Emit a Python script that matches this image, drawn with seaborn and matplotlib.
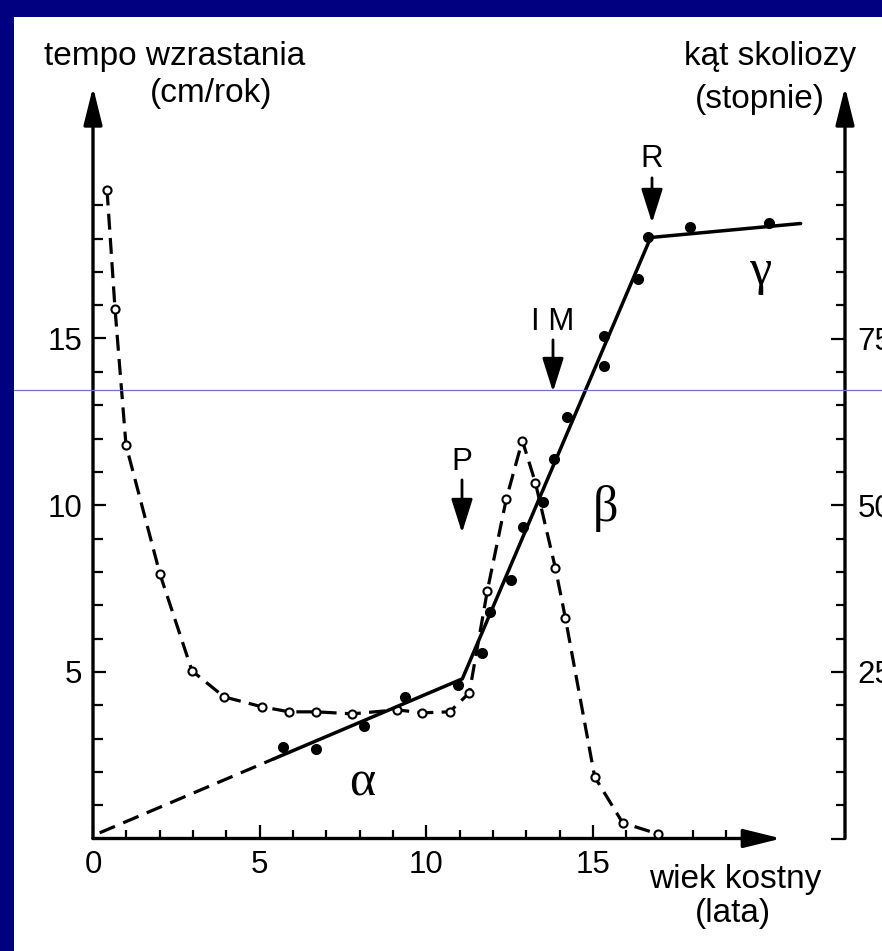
import matplotlib
matplotlib.use("Agg")
import matplotlib.pyplot as plt
from matplotlib.patches import Rectangle
from matplotlib.lines import Line2D
from matplotlib.ticker import FixedLocator
import pandas as pd
import seaborn as sns

# Growth velocity (cm/year) against bone age (years)
velocity_age = [0.42, 0.66, 0.99, 2.01, 2.97, 3.93, 5.07, 5.89, 6.70, 7.78, 9.12,
                9.88, 10.70, 11.29, 11.83, 12.40, 12.88, 13.27, 13.87, 14.17,
                15.05, 15.89, 16.94]
velocity = [19.47, 15.90, 11.80, 7.93, 5.03, 4.25, 3.95, 3.80, 3.80, 3.74, 3.86,
            3.77, 3.80, 4.37, 7.43, 10.19, 11.94, 10.68, 8.12, 6.62,
            1.85, 0.47, 0.14]

# Scoliosis angle (degrees) against bone age (years)
angle_age = [5.71, 6.70, 8.14, 9.35, 10.96, 11.68, 11.92, 12.55, 12.91, 13.51,
             13.84, 14.23, 15.32, 15.32, 16.34, 16.64, 17.90, 20.27]
angle = [13.7, 13.4, 16.9, 21.3, 23.0, 27.9, 34.0, 38.8, 46.8, 50.5,
         57.0, 63.3, 70.9, 75.4, 84.0, 90.2, 91.7, 92.3]

# Piecewise linear progression of the curve: alpha, beta, gamma phases
trend_age = [0.20, 5.40, 11.08, 16.73, 21.23]
trend_angle = [0.85, 11.9, 23.95, 90.15, 92.25]

# Maturity markers: P (puberty), I M, R (Risser)
stage_labels = ["P", "I M", "R"]
stage_age = [11.07, 13.80, 16.77]

age_ticks = [0, 5, 10, 15]
velocity_ticks = [5, 10, 15]
angle_ticks = [25, 50, 75]

W, H = 882, 951
sns.set_style("white")
plt.rcParams["font.family"] = ["Liberation Sans", "DejaVu Sans"]
plt.rcParams["text.color"] = "black"
plt.rcParams["xtick.color"] = "black"
plt.rcParams["ytick.color"] = "black"
plt.rcParams["xtick.labelcolor"] = "black"
plt.rcParams["ytick.labelcolor"] = "black"

fig = plt.figure(figsize=(W / 100, H / 100), dpi=100, facecolor="#000080")
fig.add_artist(Rectangle((14 / W, 0), 1, (H - 17) / H, transform=fig.transFigure,
                         facecolor="white", edgecolor="none", zorder=-10))

px_per_year = 500 / 15.0
x_max = (845 - 93) / px_per_year
y_max = (838.5 - 87) / px_per_year

ax = fig.add_axes([93 / W, (H - 838.5) / H, (845 - 93) / W, (838.5 - 87) / H])
ax.set_facecolor("none")
ax.set_xlim(0, x_max)
ax.set_ylim(0, y_max)
ax2 = ax.twinx()
ax2.set_ylim(0, y_max * 5)
for a in (ax, ax2):
    for s in a.spines.values():
        s.set_visible(False)

vel_df = pd.DataFrame({"age": velocity_age, "velocity": velocity})
ang_df = pd.DataFrame({"age": angle_age, "angle": angle})

# growth-velocity curve (dashed, open circles)
sns.lineplot(data=vel_df, x="age", y="velocity", ax=ax, color="black",
             estimator=None, errorbar=None, lw=2.3, linestyle=(0, (5.0, 2.6)),
             zorder=3)
sns.scatterplot(data=vel_df, x="age", y="velocity", ax=ax, s=34, marker="o",
                facecolor="white", edgecolor="black", linewidth=1.5, zorder=4)

# scoliosis angle trend and measurements
tr = pd.DataFrame({"age": trend_age, "angle": trend_angle})
sns.lineplot(data=tr.iloc[:2], x="age", y="angle", ax=ax2, color="black",
             estimator=None, errorbar=None, lw=2.3, linestyle=(0, (5.2, 2.8)))
sns.lineplot(data=tr.iloc[1:], x="age", y="angle", ax=ax2, color="black",
             estimator=None, errorbar=None, lw=2.5, sort=False)
sns.scatterplot(data=ang_df, x="age", y="angle", ax=ax2, s=64, color="black",
                edgecolor="black", linewidth=0, zorder=5)

ax.set_xlabel("")
ax.set_ylabel("")
ax2.set_ylabel("")

# axes drawn as arrows
axis_arrow = dict(arrowstyle="-|>,head_length=1.05,head_width=0.26", lw=2.4,
                  color="black", shrinkA=0, shrinkB=0, mutation_scale=22)
ax.annotate("", xy=(0, 1), xytext=(0, 0), xycoords="axes fraction",
            arrowprops=axis_arrow, annotation_clip=False)
ax.annotate("", xy=(1, 1), xytext=(1, 0), xycoords="axes fraction",
            arrowprops=axis_arrow, annotation_clip=False)
ax.annotate("", xy=(20.65, 0), xytext=(0, 0), xycoords="data",
            arrowprops=axis_arrow, annotation_clip=False)

# ticks
ax.xaxis.set_major_locator(FixedLocator(age_ticks))
ax.xaxis.set_minor_locator(FixedLocator(list(range(1, 20))))
ax.set_xticklabels([str(t) for t in age_ticks])
ax.yaxis.set_major_locator(FixedLocator(velocity_ticks))
ax.yaxis.set_minor_locator(FixedLocator(list(range(1, 20))))
ax.set_yticklabels([str(t) for t in velocity_ticks])
ax2.yaxis.set_major_locator(FixedLocator([0] + angle_ticks))
ax2.yaxis.set_minor_locator(FixedLocator(list(range(5, 101, 5))))
ax2.set_yticklabels([""] + [str(t) for t in angle_ticks])

ax.tick_params(axis="x", which="major", direction="in", length=10, width=1.6,
               labelsize=22.5, pad=8, bottom=True, colors="black")
ax.tick_params(axis="x", which="minor", direction="in", length=6.5, width=1.6,
               bottom=True, colors="black")
ax.tick_params(axis="y", which="major", direction="in", length=9.5, width=1.6,
               labelsize=22.5, pad=8, left=True, colors="black")
ax.tick_params(axis="y", which="minor", direction="in", length=7, width=1.6,
               left=True, colors="black")
ax2.tick_params(axis="y", which="major", direction="in", length=10, width=1.6,
                labelsize=22.5, pad=9, right=True, colors="black")
ax2.tick_params(axis="y", which="minor", direction="in", length=6.5, width=1.6,
                right=True, colors="black")

# maturity markers
stage_top = [10.76, 14.96, 19.82]
stage_tip = [9.17, 13.40, 18.47]
stage_text_y = [11.05, 15.25, 20.15]
stage_arrow = dict(arrowstyle="-|>,head_length=0.95,head_width=0.3", lw=2.0,
                   color="black", shrinkA=0, shrinkB=0, mutation_scale=22)
for lab, x, t, b, ty in zip(stage_labels, stage_age, stage_top, stage_tip, stage_text_y):
    ax.annotate("", xy=(x, b), xytext=(x, t), arrowprops=stage_arrow)
    ax.text(x, ty, lab, ha="center", va="baseline", fontsize=22.5, color="black")

# phase letters
greek = dict(family=["Liberation Serif", "DejaVu Serif"], fontsize=36,
             ha="center", va="center", color="black")
ax.text(8.07, 1.67, "α", **greek)
ax.text(15.36, 9.91, "β", **greek)
ax.text(20.02, 17.0, "γ", **greek)

# axis titles
lab = dict(fontsize=24, va="baseline", color="black")
fig.text(175 / W, 1 - 65 / H, "tempo wzrastania", ha="center", **lab)
fig.text(211 / W, 1 - 102 / H, "(cm/rok)", ha="center", **lab)
fig.text(770 / W, 1 - 65 / H, "kąt skoliozy", ha="center", **lab)
fig.text(760 / W, 1 - 108 / H, "(stopnie)", ha="center", **lab)
fig.text(735 / W, 1 - 888 / H, "wiek kostny", ha="center", **lab)
fig.text(733 / W, 1 - 922 / H, "(lata)", ha="center", **lab)

# thin rule across the page
fig.add_artist(Line2D([14 / W, 1], [1 - 390 / H] * 2, transform=fig.transFigure,
                      color="#7070c8", lw=0.9, zorder=20))

fig.savefig("out.png", dpi=100, facecolor=fig.get_facecolor())
